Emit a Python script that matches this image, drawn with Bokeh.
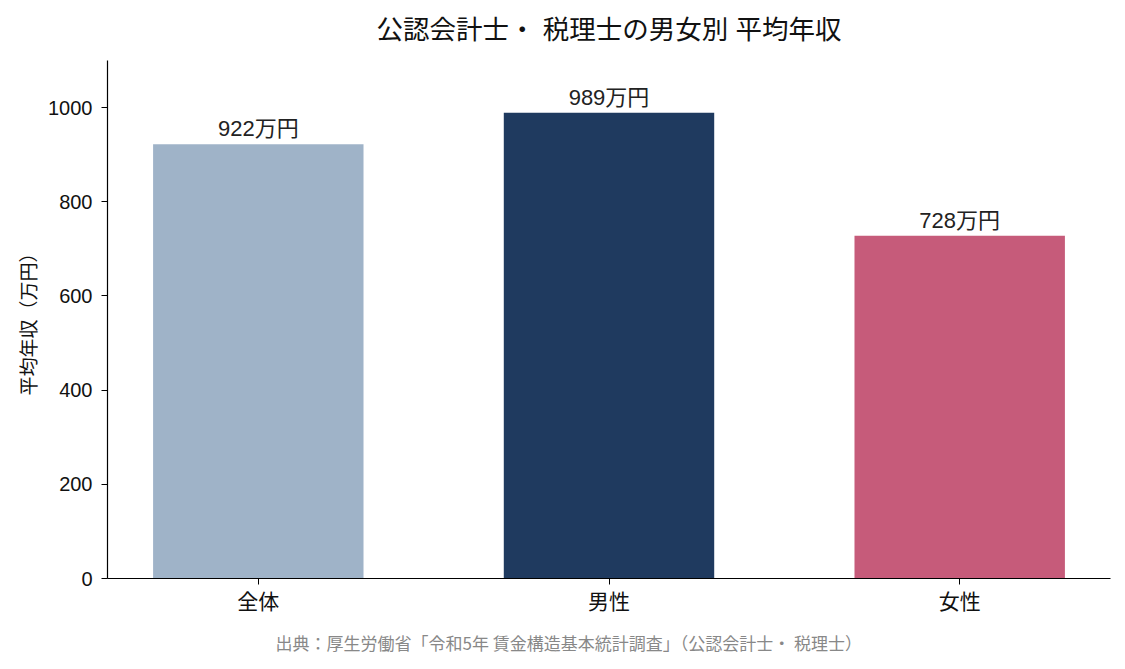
from bokeh.plotting import figure
from bokeh.models import ColumnDataSource, Range1d, FixedTicker, Title
from bokeh.core.properties import value
from bokeh.embed import file_html
from bokeh.resources import INLINE

categories = ["全体", "男性", "女性"]
salaries = [922, 989, 728]
bar_labels = ["922万円", "989万円", "728万円"]
colors = ["#9fb3c8", "#1f3a5f", "#c65b7a"]
y_ticks = [0, 200, 400, 600, 800, 1000]
title_text = "公認会計士・ 税理士の男女別 平均年収"
source_text = "出典：厚生労働省「令和5年 賃金構造基本統計調査」（公認会計士・ 税理士）"

FONT = "'Liberation Sans', 'Noto Sans CJK JP', sans-serif"
CJK = "'Noto Sans CJK JP', 'Liberation Sans', sans-serif"

xs = list(range(len(categories)))
src = ColumnDataSource(dict(x=xs, y=salaries, label=bar_labels, color=colors))

p = figure(width=1125, height=669, output_backend="svg", toolbar_location=None,
           x_range=Range1d(-0.43, len(categories) - 1 + 0.43), y_range=Range1d(0, 1100),
           min_border_left=107, min_border_right=15, min_border_top=60, min_border_bottom=91)

p.title.text = title_text
p.title.align = "center"
p.title.vertical_align = "top"
p.title.text_font = FONT
p.title.text_font_size = "26.5px"
p.title.text_font_style = "normal"
p.title.text_color = "#111111"
p.title.standoff = 27

p.vbar(x="x", top="y", width=0.6, bottom=0, color="color", source=src, line_color=None)
p.text(x="x", y="y", text="label", source=src, text_align="center", text_baseline="bottom",
       y_offset=-3, text_font=value(FONT), text_font_size="22px", text_color="#222222")

p.xgrid.visible = False
p.ygrid.visible = False
p.outline_line_color = None

p.xaxis.ticker = FixedTicker(ticks=xs)
p.xaxis.major_label_overrides = {i: c for i, c in enumerate(categories)}
p.yaxis.ticker = FixedTicker(ticks=y_ticks)

for ax in (p.xaxis, p.yaxis):
    ax.axis_line_color = "#000000"
    ax.axis_line_width = 1.2
    ax.major_tick_line_color = "#000000"
    ax.major_tick_out = 6
    ax.major_tick_in = 0
    ax.minor_tick_line_color = None
    ax.major_label_text_color = "#111111"

p.xaxis.major_label_standoff = 0
p.yaxis.major_label_standoff = 9
p.xaxis.major_label_text_font = CJK
p.yaxis.major_label_text_font = FONT
p.xaxis.major_label_text_font_size = "21px"
p.yaxis.major_label_text_font_size = "20px"

p.yaxis.axis_label = "平均年収（万円）"
p.yaxis.axis_label_text_font = CJK
p.yaxis.axis_label_text_font_size = "19px"
p.yaxis.axis_label_text_font_style = "normal"
p.yaxis.axis_label_text_color = "#111111"
p.yaxis.axis_label_standoff = 4

src_title = Title(text=source_text,
                  align="left", text_font=CJK, text_font_size="17px",
                  text_font_style="normal", text_color="#888888", offset=168, standoff=21)
p.add_layout(src_title, "below")

open("out.html", "w").write(file_html(p, INLINE))
